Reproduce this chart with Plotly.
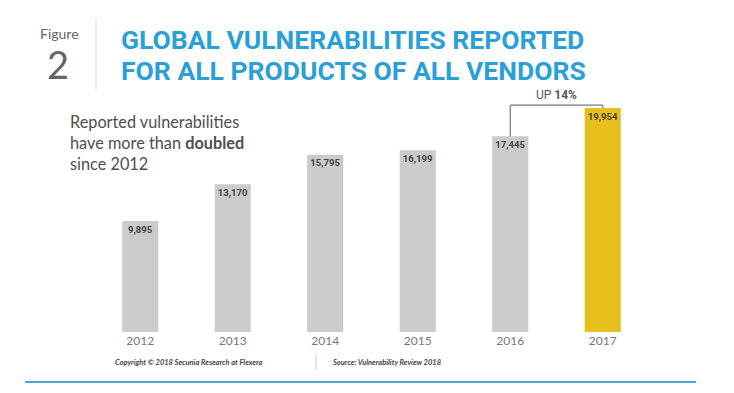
import plotly.graph_objects as go

years = ["2012", "2013", "2014", "2015", "2016", "2017"]
values = [9895, 13170, 15795, 16199, 17445, 19954]
labels = ["9,895", "13,170", "15,795", "16,199", "17,445", "19,954"]
bar_colors = ["#cbcbcb"] * 5 + ["#e8c01e"]

W, H = 734, 393
ML, MR, MT, MB = 94, 85, 85, 61
PW, PH = W - ML - MR, H - MT - MB


def px(x):
    return (x - ML) / PW


def py(y):
    return 1 - (y - MT) / PH


fig = go.Figure()
fig.add_trace(go.Bar(
    x=years, y=values, marker=dict(color=bar_colors, line=dict(width=0)),
    text=labels, texttemplate="<b>%{text}</b>", textposition="inside", insidetextanchor="end",
    textfont=dict(family="Roboto", size=10, color="#444444"),
    textangle=0, cliponaxis=False, hoverinfo="skip",
))

i16, i17 = years.index("2016"), years.index("2017")
bracket_y = 20200
line_style = dict(color="#777777", width=1.2)
fig.add_shape(type="line", xref="x", yref="y", x0=i16, x1=i16, y0=values[i16], y1=bracket_y, line=line_style)
fig.add_shape(type="line", xref="x", yref="y", x0=i16, x1=i17, y0=bracket_y, y1=bracket_y, line=line_style)
fig.add_shape(type="line", xref="x", yref="y", x0=i17, x1=i17, y0=bracket_y, y1=values[i17], line=line_style)

ann = []
ann.append(dict(x=(i16 + i17) / 2, y=bracket_y, xref="x", yref="y", text="UP <b>14%</b>", showarrow=False,
                xanchor="center", yanchor="bottom", yshift=1,
                font=dict(family="Roboto", size=12, color="#555555")))
ann.append(dict(x=px(59), y=py(34), xref="paper", yref="paper", text="Figure", showarrow=False,
                xanchor="center", yanchor="middle",
                font=dict(family="Lato", size=14, color="#666666")))
ann.append(dict(x=px(58), y=py(64), xref="paper", yref="paper", text="2", showarrow=False,
                xanchor="center", yanchor="middle", height=36, valign="middle",
                font=dict(family="Lato", size=38, color="#666666")))
ann.append(dict(x=px(119), y=py(40), xref="paper", yref="paper", text="<b>GLOBAL VULNERABILITIES REPORTED</b>",
                showarrow=False, xanchor="left", yanchor="middle",
                font=dict(family="Roboto", size=26.5, color="#2a9fd8")))
ann.append(dict(x=px(119), y=py(70), xref="paper", yref="paper", text="<b>FOR ALL PRODUCTS OF ALL VENDORS</b>",
                showarrow=False, xanchor="left", yanchor="middle",
                font=dict(family="Roboto", size=26.5, color="#2a9fd8")))
ann.append(dict(x=px(68), y=py(142), xref="paper", yref="paper",
                text="Reported vulnerabilities<br>have more than <b>doubled</b><br>since 2012",
                showarrow=False, xanchor="left", yanchor="middle", align="left",
                font=dict(family="Lato", size=16.3, color="#4f4f4f")))
ann.append(dict(x=px(113), y=py(362), xref="paper", yref="paper",
                text="<i><b>Copyright © 2018 Secunia Research at Flexera</b></i>",
                showarrow=False, xanchor="left", yanchor="middle",
                font=dict(family="Lato", size=7.5, color="#444444")))
ann.append(dict(x=px(330), y=py(362), xref="paper", yref="paper",
                text="<i><b>Source: Vulnerability Review 2018</b></i>",
                showarrow=False, xanchor="left", yanchor="middle",
                font=dict(family="Lato", size=7.5, color="#444444")))

shapes_paper = [
    dict(type="line", xref="paper", yref="paper", x0=px(96), x1=px(96), y0=py(18), y1=py(90),
         line=dict(color="#dddddd", width=1)),
    dict(type="line", xref="paper", yref="paper", x0=px(316), x1=px(316), y0=py(354), y1=py(370),
         line=dict(color="#cccccc", width=1)),
    dict(type="line", xref="paper", yref="paper", x0=px(25), x1=px(696), y0=py(382), y1=py(382),
         line=dict(color="#4aa6d6", width=2)),
]
for s in shapes_paper:
    fig.add_shape(**s)

fig.update_layout(
    width=W, height=H, autosize=False,
    margin=dict(l=ML, r=MR, t=MT, b=MB, pad=0),
    paper_bgcolor="white", plot_bgcolor="white",
    bargap=0.61, showlegend=False,
    annotations=ann,
    xaxis=dict(type="category", range=[-0.5, len(years) - 0.5], showgrid=False, showline=False,
               zeroline=False, ticks="", tickfont=dict(family="Lato", size=12, color="#777777")),
    yaxis=dict(range=[0, 22000], visible=False, showgrid=False, zeroline=False),
    uniformtext=dict(minsize=8, mode="show"),
)

fig.write_html("out.html", config={"displayModeBar": False},
               post_script="document.body.style.margin='0';")
